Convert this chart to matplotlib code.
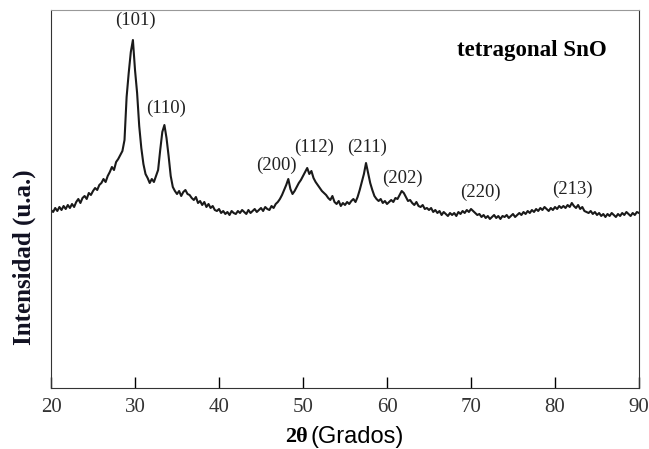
import numpy as np
import matplotlib
matplotlib.use('Agg')
import matplotlib.pyplot as plt

# 2theta from 20 to 90 in 0.25 deg steps, intensity (a.u.)
two_theta = np.arange(20, 90.001, 0.25)

intensity = [
    178, 176, 180, 177, 181, 178, 182, 179, 183, 180, 184, 181,
    186, 189, 185, 190, 192, 189, 195, 193, 197, 200, 198, 203,
    205, 209, 206, 212, 216, 221, 218, 226, 229, 233, 237, 248,
    291, 315, 336, 348, 318, 295, 262, 240, 224, 214, 210, 205,
    209, 206, 212, 218, 238, 256, 263, 250, 232, 212, 201, 197,
    194, 197, 192, 196, 198, 194, 193, 190, 188, 191, 185, 187,
    183, 186, 181, 184, 180, 182, 178, 177, 179, 175, 177, 174,
    176, 173, 177, 175, 174, 177, 175, 178, 176, 174, 178, 175,
    177, 179, 176, 178, 180, 177, 181, 179, 178, 182, 180, 184,
    186, 189, 193, 198, 203, 209, 199, 194, 197, 201, 205, 208,
    212, 216, 220, 214, 217, 210, 206, 203, 200, 197, 195, 193,
    190, 188, 192, 186, 184, 187, 182, 185, 183, 186, 184, 187,
    189, 186, 191, 198, 206, 214, 225, 215, 205, 198, 192, 189,
    187, 189, 185, 187, 184, 186, 188, 186, 190, 189, 193, 197,
    195, 191, 187, 188, 185, 183, 186, 182, 181, 183, 179, 180,
    178, 180, 176, 178, 175, 177, 173, 176, 174, 172, 175, 173,
    175, 172, 176, 174, 177, 175, 178, 176, 179, 177, 175, 173,
    174, 171, 173, 170, 172, 169, 171, 173, 170, 172, 169, 172,
    171, 173, 170, 172, 174, 171, 173, 175, 173, 176, 174, 177,
    175, 178, 176, 179, 177, 180, 178, 181, 179, 177, 180, 178,
    181, 179, 182, 180, 182, 180, 183, 181, 185, 182, 180, 183,
    179, 181, 177, 176, 175, 177, 174, 176, 173, 175, 172, 174,
    171, 174, 172, 175, 173, 171, 174, 172, 175, 173, 176, 174,
    172, 175, 173, 176, 175,
]

peak_labels = ['(101)', '(110)', '(200)', '(112)', '(211)', '(202)', '(220)', '(213)']
peak_x = [30.0, 33.7, 46.8, 51.3, 57.6, 61.8, 71.1, 82.1]
peak_y = [368, 280, 223, 241, 241, 210, 196, 199]

fig = plt.figure(figsize=(6.49, 4.49), dpi=100)
ax = fig.add_axes([0.0786, 0.1359, 0.906, 0.8418])

ax.plot(two_theta, intensity, color='#1a1a1a', lw=1.5)

for lab, px, py in zip(peak_labels, peak_x, peak_y):
    ax.text(px, py, lab, ha='center', va='center', fontsize=13.5,
            family='Liberation Serif', color='#222222')

ax.text(86.2, 338, 'tetragonal SnO', ha='right', va='center', fontsize=16.5,
        fontweight='bold', family='Liberation Serif')

ax.set_xlim(20, 90)
ax.set_ylim(0, 378)
ax.set_xticks(range(20, 91, 10))
ax.set_yticks([])
ax.tick_params(axis='x', direction='in', length=8, width=1, labelsize=15, pad=7)
for t in ax.get_xticklabels():
    t.set_family('Liberation Serif')
    t.set_color('#333333')
for s in ['left', 'bottom', 'right']:
    ax.spines[s].set_color('#333333')
ax.spines['top'].set_color('#999999')

fig.text(24 / 649, 1 - 257 / 449, 'Intensidad (u.a.)', rotation=90, ha='center',
         va='center', fontsize=18, fontweight='bold', family='Liberation Serif',
         color='#111122')
fig.text(308 / 649, 1 - 437 / 449, '2θ', ha='right', va='center', fontsize=16,
         fontweight='bold', family='Liberation Serif')
fig.text(310 / 649, 1 - 437 / 449, '(Grados)', ha='left', va='center', fontsize=17,
         family='Liberation Sans')

fig.savefig('out.png', dpi=100)
